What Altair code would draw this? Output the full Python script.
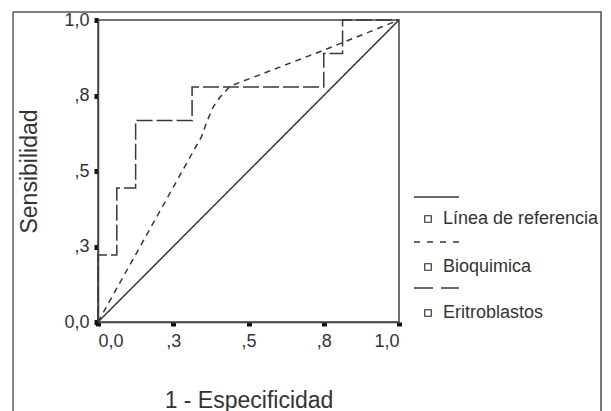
import altair as alt
import pandas as pd

# ---- data ----
ref_x = [0.0, 1.0]
ref_y = [0.0, 1.0]

bio_x = [0.0, 0.344, 0.361, 0.383, 0.405, 0.439, 0.75, 1.0]
bio_y = [0.0, 0.614, 0.662, 0.713, 0.744, 0.781, 0.90, 1.0]

eri_x = [0.0, 0.0, 0.0625, 0.0625, 0.125, 0.125, 0.3125, 0.3125, 0.75, 0.75, 0.8125, 0.8125, 1.0]
eri_y = [0.0, 0.222, 0.222, 0.444, 0.444, 0.667, 0.667, 0.778, 0.778, 0.889, 0.889, 1.0, 1.0]

tick_values = [0.0, 0.25, 0.5, 0.75, 1.0]
tick_labels = ["0,0", ",3", ",5", ",8", "1,0"]

legend_labels = ["Línea de referencia", "Bioquimica", "Eritroblastos"]

x_title = "1 - Especificidad"
y_title = "Sensibilidad"

# ---- styling ----
FONT = "Liberation Sans"
TXT = "#333333"
LINE = "#383838"
W, H = 301, 302

label_expr = " : ".join(
    f"datum.value == {v} ? '{l}'" for v, l in zip(tick_values, tick_labels)
) + " : ''"

def frame(xs, ys):
    return pd.DataFrame({"x": xs, "y": ys, "i": list(range(len(xs)))})

xscale = alt.Scale(domain=[0, 1], nice=False, zero=False)
yscale = alt.Scale(domain=[0, 1], nice=False, zero=False)

x_axis = alt.Axis(
    values=tick_values, labelExpr=label_expr, grid=False,
    domainColor="#444444", domainWidth=1.5,
    tickColor="#111111", tickWidth=5, tickSize=4,
    labelFont=FONT, labelFontSize=18, labelColor=TXT, labelPadding=6,
    title=x_title, titleFont=FONT, titleFontSize=23, titleFontWeight="normal",
    titleColor=TXT, titleX=W / 2, titleY=85, titleBaseline="alphabetic",
    titleAlign="center",
)
y_axis = alt.Axis(
    values=tick_values, labelExpr=label_expr, grid=False,
    domainColor="#444444", domainWidth=1.5,
    tickColor="#111111", tickWidth=5, tickSize=4,
    labelFont=FONT, labelFontSize=18, labelColor=TXT, labelPadding=5,
    title=y_title, titleFont=FONT, titleFontSize=23, titleFontWeight="normal",
    titleColor=TXT, titleAngle=270, titleX=-62, titleY=H / 2,
    titleBaseline="alphabetic", titleAlign="center",
)

def series(xs, ys, dash, with_axes=False):
    base = alt.Chart(frame(xs, ys)).mark_line(
        color=LINE, strokeWidth=1.5, strokeDash=dash, clip=False
    )
    if with_axes:
        return base.encode(
            x=alt.X("x:Q", scale=xscale, axis=x_axis),
            y=alt.Y("y:Q", scale=yscale, axis=y_axis),
            order="i:Q",
        )
    return base.encode(
        x=alt.X("x:Q", scale=xscale),
        y=alt.Y("y:Q", scale=yscale),
        order="i:Q",
    )

ref = series(ref_x, ref_y, [1, 0], with_axes=True)
bio = series(bio_x, bio_y, [6, 5])
eri = series(eri_x, eri_y, [16, 4])

one = pd.DataFrame({"a": [0]})
# outer frame drawn with rules
outer_top = alt.Chart(one).mark_rule(color="#555555", strokeWidth=1.4).encode(
    x=alt.value(-85), x2=alt.value(504), y=alt.value(-8)
)
outer_left = alt.Chart(one).mark_rule(color="#555555", strokeWidth=1.4).encode(
    x=alt.value(-85), y=alt.value(-8), y2=alt.value(430)
)
outer_right = alt.Chart(one).mark_rule(color="#777777", strokeWidth=2.0).encode(
    x=alt.value(503), y=alt.value(-8), y2=alt.value(430)
)

# legend (custom, SPSS style)
leg_layers = []
dashes = [[1, 0], [6, 7], [19, 8]]
line_y = [177, 222, 268]
item_y = [199, 247, 293]
for lab, d, ly, iy in zip(legend_labels, dashes, line_y, item_y):
    leg_layers.append(
        alt.Chart(one).mark_rule(
            color=LINE, strokeWidth=1.5, strokeDash=d
        ).encode(x=alt.value(316), x2=alt.value(361), y=alt.value(ly))
    )
    leg_layers.append(
        alt.Chart(one).mark_point(
            shape="square", filled=False, color="#222222", size=42, strokeWidth=1.1,
            opacity=1,
        ).encode(x=alt.value(330), y=alt.value(iy))
    )
    leg_layers.append(
        alt.Chart(pd.DataFrame({"t": [lab]})).mark_text(
            font=FONT, fontSize=18, color=TXT, align="left", baseline="middle"
        ).encode(x=alt.value(345), y=alt.value(iy), text="t:N")
    )

chart = alt.layer(outer_top, outer_left, outer_right, ref, bio, eri, *leg_layers).properties(
    width=W, height=H,
    autosize=alt.AutoSizeParams(type="none"),
    padding={"left": 90, "top": 12, "right": 203, "bottom": 100},
    background="white",
).configure_view(stroke="#444444", strokeWidth=1.5)

chart.save("out.html", embed_options={"renderer": "svg", "actions": False})
